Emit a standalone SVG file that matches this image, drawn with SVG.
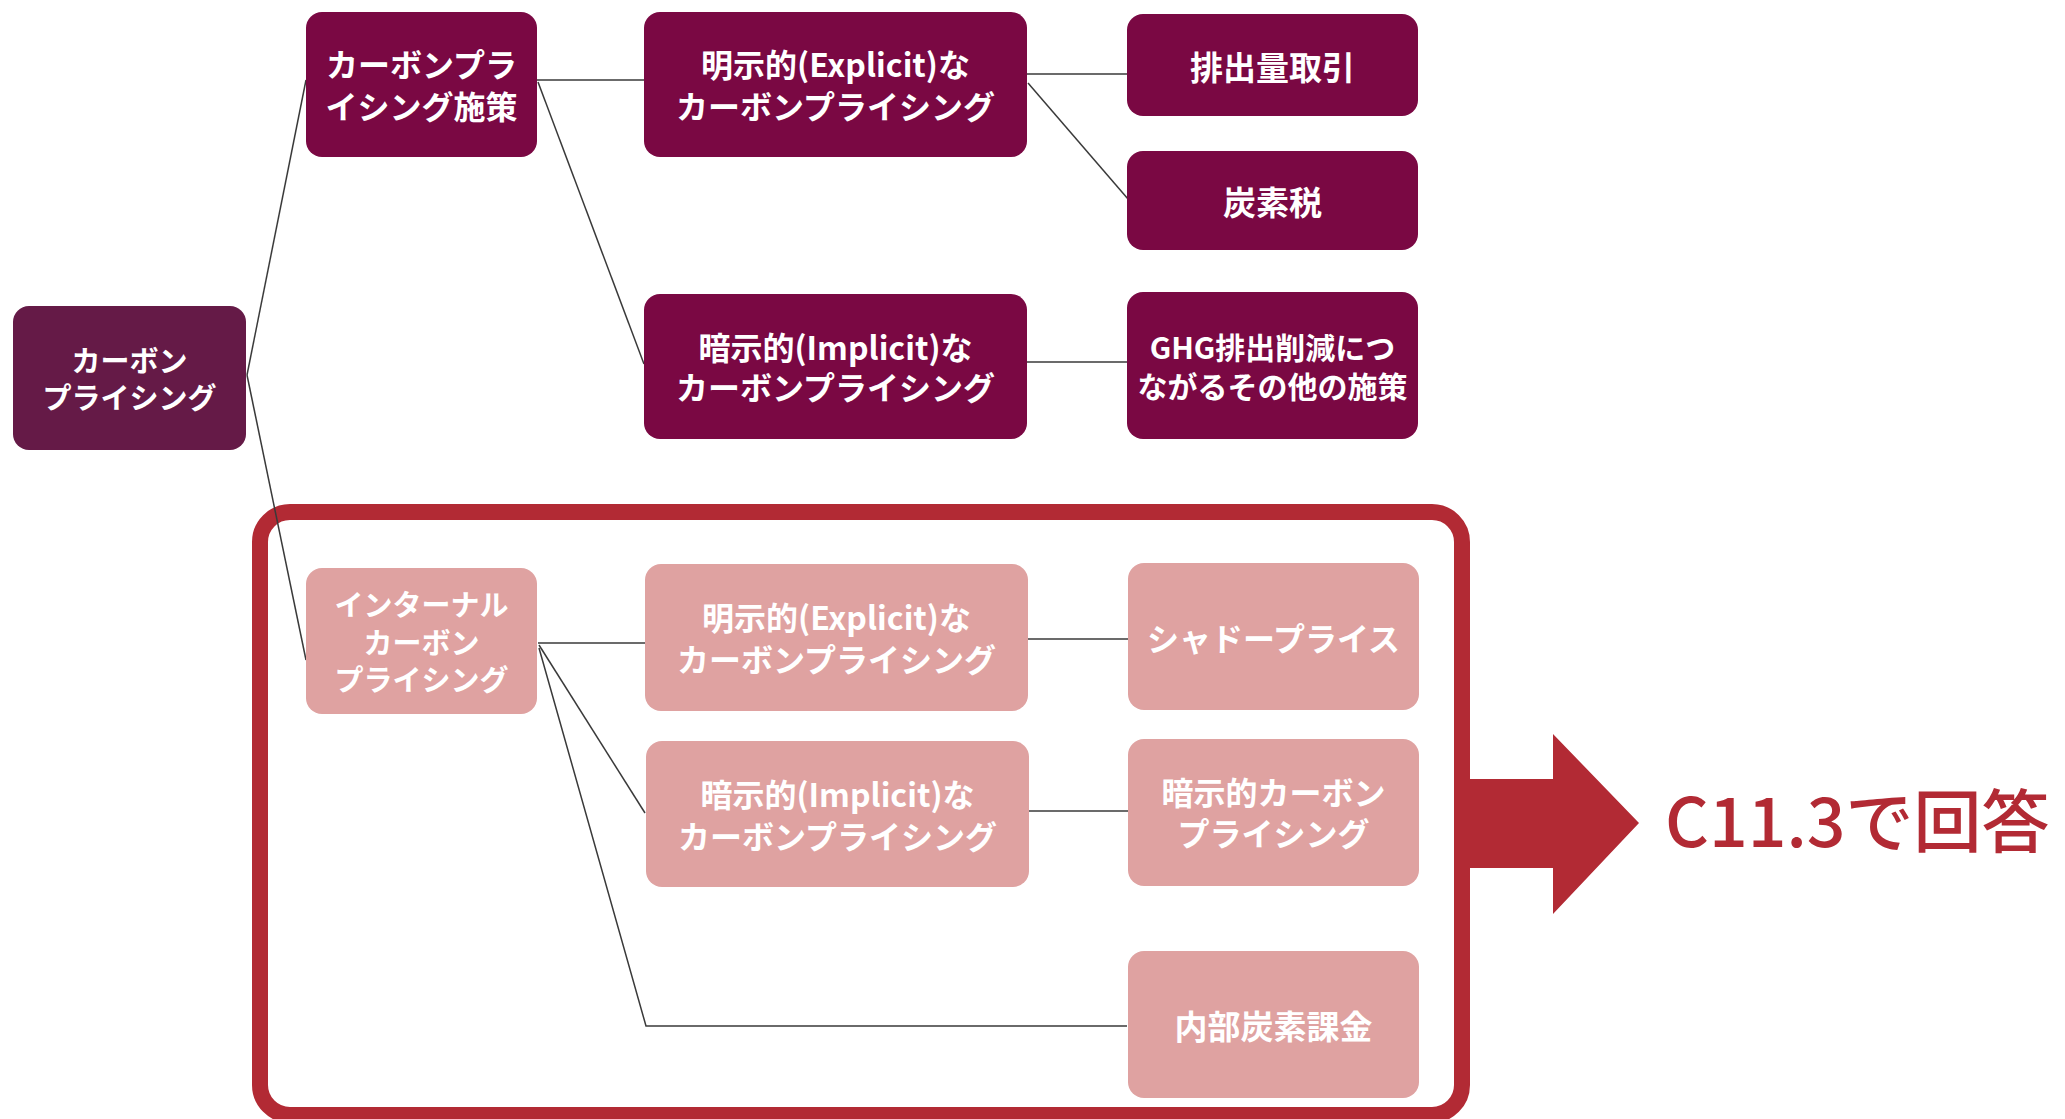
<svg xmlns="http://www.w3.org/2000/svg" width="2065" height="1119" viewBox="0 0 2065 1119">
<style>
.dark rect{fill:#7A0843;}
.root rect{fill:#651A47;}
.pink rect{fill:#DFA2A1;}
text.t{font-family:"Noto Sans CJK JP","Noto Sans",sans-serif;font-weight:700;fill:#ffffff;text-anchor:middle;dominant-baseline:central;}
.conn line,.conn polyline{stroke:#3a3a3a;stroke-width:1.5;fill:none;}
</style>
<rect x="0" y="0" width="2065" height="1119" fill="#ffffff"/>
<g id="frame">
<rect x="260" y="512" width="1202" height="603" rx="30" fill="none" stroke="#B22A34" stroke-width="16"/>
</g>
<g id="connectors" class="conn">
<line x1="247" y1="375" x2="306" y2="80"/>
<line x1="247" y1="375" x2="306" y2="660"/>
<line x1="537" y1="80" x2="644" y2="80"/>
<line x1="538" y1="82" x2="644" y2="364"/>
<line x1="1027" y1="74" x2="1127" y2="74"/>
<line x1="1028" y1="83" x2="1128" y2="199"/>
<line x1="1027" y1="362" x2="1127" y2="362"/>
<line x1="538" y1="643" x2="645" y2="643"/>
<line x1="539" y1="645" x2="645" y2="813"/>
<polyline points="539,648 646,1026 1127,1026"/>
<line x1="1028" y1="639" x2="1128" y2="639"/>
<line x1="1029" y1="811" x2="1128" y2="811"/>
</g>
<g id="n-root" class="root">
<rect x="13" y="306" width="233" height="144" rx="16"/>
<text class="t" x="129.5" y="359" font-size="29">カーボン</text>
<text class="t" x="129.5" y="396" font-size="29">プライシング</text>
</g>
<g id="n-policy" class="dark">
<rect x="306" y="12" width="231" height="145" rx="16"/>
<text class="t" x="421.5" y="63" font-size="32">カーボンプラ</text>
<text class="t" x="421.5" y="105" font-size="32">イシング施策</text>
</g>
<g id="n-explicit" class="dark">
<rect x="644" y="12" width="383" height="145" rx="16"/>
<text class="t" x="835.5" y="63" font-size="32">明示的(Explicit)な</text>
<text class="t" x="835.5" y="105" font-size="32">カーボンプライシング</text>
</g>
<g id="n-ets" class="dark">
<rect x="1127" y="14" width="291" height="102" rx="16"/>
<text class="t" x="1272.5" y="66" font-size="33">排出量取引</text>
</g>
<g id="n-tax" class="dark">
<rect x="1127" y="151" width="291" height="99" rx="16"/>
<text class="t" x="1272.5" y="201" font-size="33">炭素税</text>
</g>
<g id="n-implicit" class="dark">
<rect x="644" y="294" width="383" height="145" rx="16"/>
<text class="t" x="835.5" y="346" font-size="32">暗示的(Implicit)な</text>
<text class="t" x="835.5" y="386" font-size="32">カーボンプライシング</text>
</g>
<g id="n-ghg" class="dark">
<rect x="1127" y="292" width="291" height="147" rx="16"/>
<text class="t" x="1272.5" y="346" font-size="30">GHG排出削減につ</text>
<text class="t" x="1272.5" y="385" font-size="30">ながるその他の施策</text>
</g>
<g id="n-internal" class="pink">
<rect x="306" y="568" width="231" height="146" rx="16"/>
<text class="t" x="421.5" y="603" font-size="29">インターナル</text>
<text class="t" x="421.5" y="641" font-size="29">カーボン</text>
<text class="t" x="421.5" y="678" font-size="29">プライシング</text>
</g>
<g id="n-int-explicit" class="pink">
<rect x="645" y="564" width="383" height="147" rx="16"/>
<text class="t" x="836.5" y="616" font-size="32">明示的(Explicit)な</text>
<text class="t" x="836.5" y="658" font-size="32">カーボンプライシング</text>
</g>
<g id="n-shadow" class="pink">
<rect x="1128" y="563" width="291" height="147" rx="16"/>
<text class="t" x="1273.5" y="637" font-size="32">シャドープライス</text>
</g>
<g id="n-int-implicit" class="pink">
<rect x="646" y="741" width="383" height="146" rx="16"/>
<text class="t" x="837.5" y="793" font-size="32">暗示的(Implicit)な</text>
<text class="t" x="837.5" y="835" font-size="32">カーボンプライシング</text>
</g>
<g id="n-implicit-cp" class="pink">
<rect x="1128" y="739" width="291" height="147" rx="16"/>
<text class="t" x="1273.5" y="791" font-size="32">暗示的カーボン</text>
<text class="t" x="1273.5" y="832" font-size="32">プライシング</text>
</g>
<g id="n-icf" class="pink">
<rect x="1128" y="951" width="291" height="147" rx="16"/>
<text class="t" x="1273.5" y="1025" font-size="33">内部炭素課金</text>
</g>
<g id="answer">
<polygon points="1462,779 1553,779 1553,734 1639,823 1553,914 1553,868 1462,868" fill="#B22A34"/>
<text x="1665" y="847" font-family="'Noto Sans CJK JP','Noto Sans',sans-serif" font-weight="500" font-size="68" fill="#B22A34">C11.3で回答</text>
</g>
</svg>
